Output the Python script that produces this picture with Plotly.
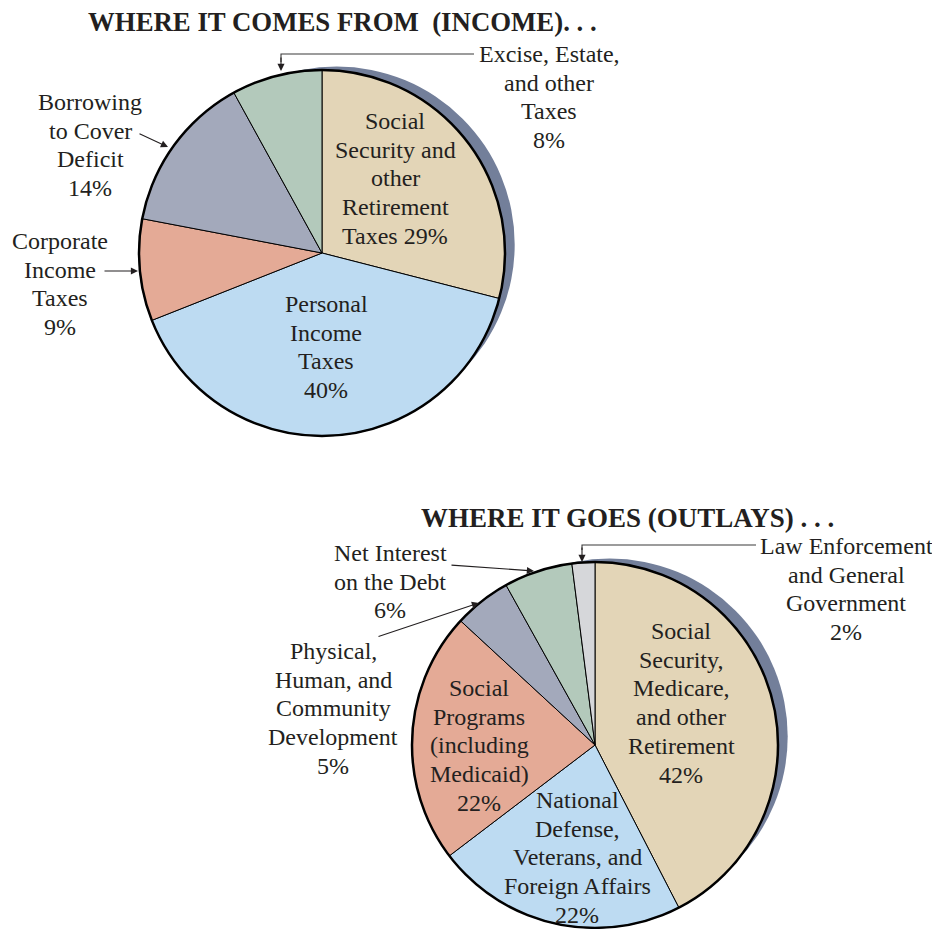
import plotly.graph_objects as go

W, H = 940, 929
OFF = 8  # the page body adds an 8px margin round the figure

# income pie (clockwise from 12 o'clock)
income_labels = ["Social Security and other Retirement Taxes", "Personal Income Taxes",
                 "Corporate Income Taxes", "Borrowing to Cover Deficit",
                 "Excise, Estate, and other Taxes"]
income_values = [29, 40, 9, 14, 8]

# outlays pie (clockwise from 12 o'clock)
outlay_labels = ["Social Security, Medicare, and other Retirement",
                 "National Defense, Veterans, and Foreign Affairs",
                 "Social Programs (including Medicaid)",
                 "Physical, Human, and Community Development",
                 "Net Interest on the Debt", "Law Enforcement and General Government"]
outlay_values = [42, 22, 22, 5, 6, 2]

income_colors = ["#e3d5b7", "#bddbf2", "#e4aa96", "#a3a9bb", "#b3c9bb"]
outlay_colors = ["#e3d5b7", "#bddbf2", "#e4aa96", "#a3a9bb", "#b3c9bb", "#d6d7da"]
SHADOW = "#737f9a"
FONT = "Liberation Serif"


def px(x):
    return (x - OFF) / W


def py(y):
    return 1 - (y - OFF) / H


def pie_domain(cx, cy, r):
    return dict(x=[px(cx - r), px(cx + r)], y=[py(cy + r), py(cy - r)])


fig = go.Figure()

pies = [
    (income_labels, income_values, income_colors, (322, 253, 183)),
    (outlay_labels, outlay_values, outlay_colors, (595, 745, 183)),
]

shapes = []
for labels, values, colors, (cx, cy, r) in pies:
    fig.add_trace(go.Pie(
        labels=labels, values=values, sort=False, direction="clockwise",
        rotation=0, textinfo="none", hoverinfo="label+value",
        marker=dict(colors=colors, line=dict(color="black", width=1)),
        domain=pie_domain(cx, cy, r), showlegend=False,
    ))
    # offset shadow behind the pie
    sx, sy, sr = cx + 14.7, cy - 8.5, r - 5
    shapes.append(dict(type="circle", xref="paper", yref="paper", layer="below",
                       x0=px(sx - sr), x1=px(sx + sr), y0=py(sy + sr), y1=py(sy - sr),
                       fillcolor=SHADOW, line=dict(width=0)))
    # heavy outer rim
    shapes.append(dict(type="circle", xref="paper", yref="paper", layer="above",
                       x0=px(cx - r), x1=px(cx + r), y0=py(cy + r), y1=py(cy - r),
                       line=dict(color="black", width=2.5)))

annotations = []


def add_text(lines, cx, y0, size=24, step=28.7, bold=False):
    for i, line in enumerate(lines):
        annotations.append(dict(
            x=px(cx), y=py(y0 + i * step), xref="paper", yref="paper",
            text=f"<b>{line}</b>" if bold else line, showarrow=False,
            xanchor="center", yanchor="middle",
            font=dict(family=FONT, size=size, color="#231f20")))


def add_line(points):
    path = "M " + " L ".join(f"{px(x)},{py(y)}" for x, y in points)
    shapes.append(dict(type="path", xref="paper", yref="paper", path=path,
                       layer="above", line=dict(color="#3a3a3a", width=1.1)))


def add_arrow(x0, y0, x1, y1):
    annotations.append(dict(
        x=px(x1), y=py(y1), xref="paper", yref="paper",
        ax=x0 - x1, ay=y0 - y1, axref="pixel", ayref="pixel",
        text="", showarrow=True, arrowhead=2, arrowsize=1.3, arrowwidth=1.1,
        arrowcolor="#231f20", standoff=0, startstandoff=0))


# titles
add_text(["WHERE IT COMES FROM\u00a0 (INCOME). . ."], 342, 22, size=26.8, bold=True)
add_text(["WHERE IT GOES (OUTLAYS) . . ."], 627, 518, size=27, bold=True)

# income labels
add_text(["Social", "Security and", "other", "Retirement", "Taxes 29%"], 395, 121)
add_text(["Personal", "Income", "Taxes", "40%"], 326, 304)
add_text(["Excise, Estate,", "and other", "Taxes", "8%"], 549, 54)
add_text(["Borrowing", "to Cover", "Deficit", "14%"], 90, 102)
add_text(["Corporate", "Income", "Taxes", "9%"], 60, 241)

add_line([(474, 54), (281, 54), (281, 62)])
add_arrow(281, 56, 281, 71)
add_arrow(138, 133, 168, 147)
add_arrow(103, 271, 138, 271)

# outlay labels
add_text(["Social", "Security,", "Medicare,", "and other", "Retirement", "42%"], 681, 631)
add_text(["National", "Defense,", "Veterans, and", "Foreign Affairs", "22%"], 577, 800)
add_text(["Social", "Programs", "(including", "Medicaid)", "22%"], 479, 688)
add_text(["Law Enforcement", "and General", "Government", "2%"], 846, 546)
add_text(["Net Interest", "on the Debt", "6%"], 390, 553)
add_text(["Physical,", "Human, and", "Community", "Development", "5%"], 333, 651)

add_line([(756, 545), (582, 545), (582, 550)])
add_arrow(582, 546, 582, 562)
add_arrow(450, 565, 534, 571)
add_arrow(377, 637, 479, 603)

fig.update_layout(
    width=W, height=H,
    margin=dict(l=0, r=0, t=0, b=0),
    paper_bgcolor="white", plot_bgcolor="white",
    shapes=shapes, annotations=annotations,
)

fig.write_html("out.html")
